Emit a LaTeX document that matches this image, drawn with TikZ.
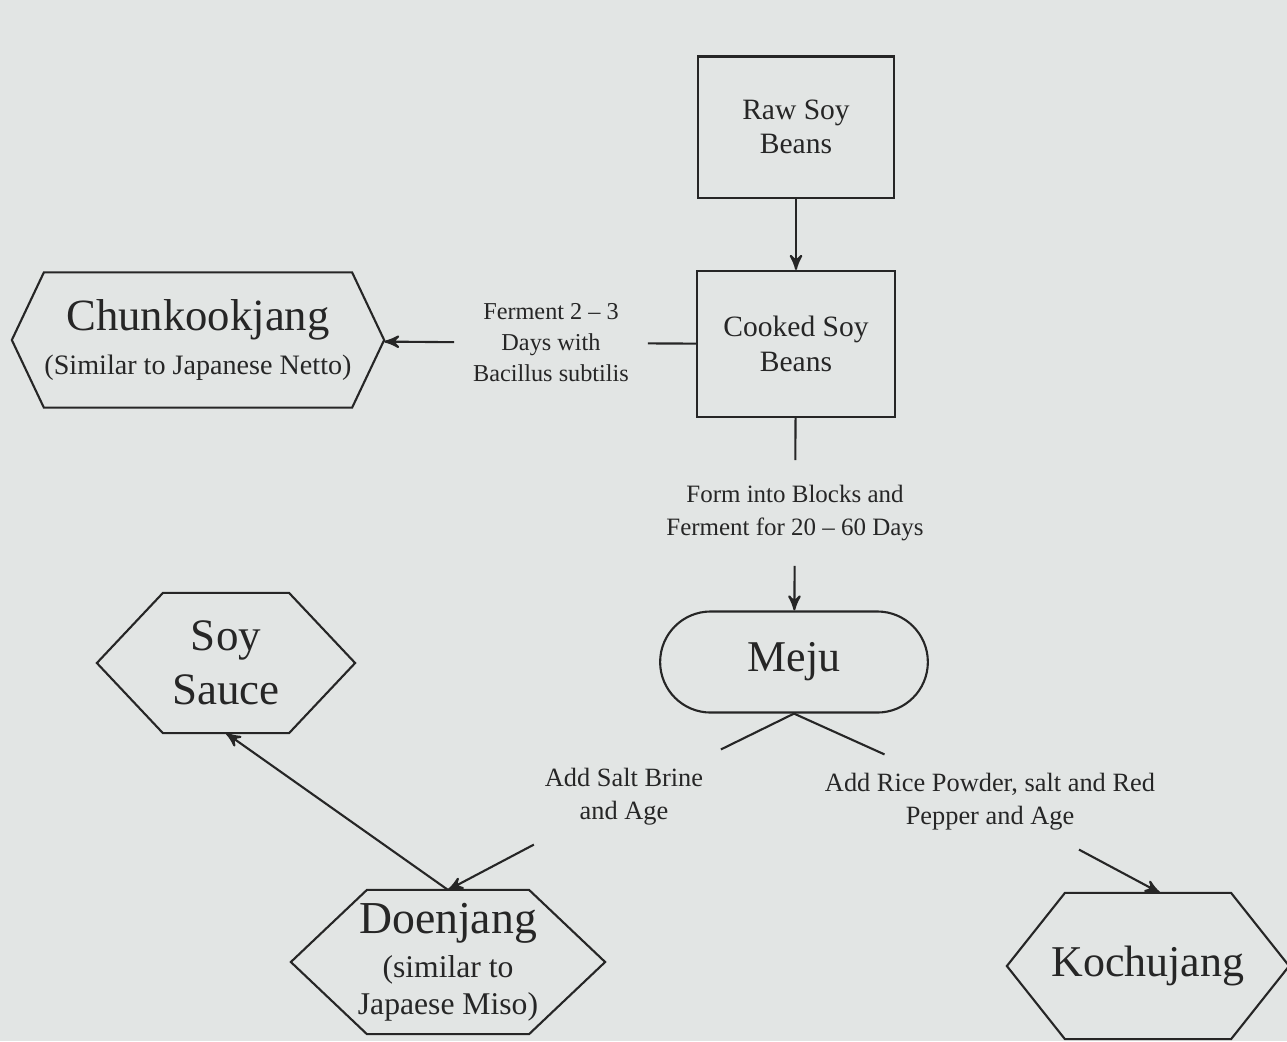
\documentclass[tikz,border=0pt]{standalone}
\usepackage{fontspec}
\setmainfont{Liberation Serif}
\usetikzlibrary{positioning}
\usetikzlibrary{shapes.misc}
\usetikzlibrary{arrows}
\definecolor{paper}{RGB}{226,229,228}
\definecolor{ink}{RGB}{38,38,38}
\tikzset{ed/.style={inner sep=0.18cm, align=center}}
\tikzset{box/.style={draw, align=center, font=\fontsize{8.4}{9.8}\selectfont}}
\tikzset{hex/.style={align=center, inner sep=0pt}}
\tikzset{>=stealth'}
\newcommand{\hexline}[2]{\draw (#1.west) -- ([xshift=#2]#1.north west) -- ([xshift=-#2]#1.north east) -- (#1.east) -- ([xshift=-#2]#1.south east) -- ([xshift=#2]#1.south west) -- cycle;}

\begin{document}
\begin{tikzpicture}[x=0.01cm, y=-0.01cm, color=ink, line width=0.6pt]
        \fill[paper] (0,0) rectangle (1287,1041);
        \useasboundingbox (0,0) rectangle (1287,1041);
        % boxes down the middle
        \node[box, minimum width=1.96cm, minimum height=1.41cm] (Raw) at (796, 127) {Raw Soy\\Beans};
        \node[box, minimum width=1.98cm, minimum height=1.46cm] (Cooked) at (796, 344) {Cooked Soy\\Beans};
        \node[draw, rounded rectangle, minimum width=2.91cm, minimum height=1.01cm, font=\fontsize{12.5}{14}\selectfont] (Meju) at (794, 662) {Meju};
        % hexagons
        \node[hex, minimum width=3.70cm, minimum height=1.33cm, font=\fontsize{8}{12.5}\selectfont] (Chunk) at (198, 340) {{\fontsize{12.7}{14}\selectfont Chunkookjang}\\(Similar to Japanese Netto)};
        \node[hex, minimum width=2.56cm, minimum height=1.38cm, font=\fontsize{12.8}{15.4}\selectfont] (Soy) at (226, 663) {Soy\\Sauce};
        \node[hex, minimum width=3.12cm, minimum height=1.42cm, font=\fontsize{9}{10.5}\selectfont] (Doen) at (448, 962) {{\fontsize{13}{15}\selectfont Doenjang}\\[2pt](similar to\\Japaese Miso)};
        \node[hex, minimum width=2.80cm, minimum height=1.44cm, font=\fontsize{12.5}{14}\selectfont] (Kochu) at (1148, 966) {Kochujang};
        \hexline{Chunk}{0.32cm}
        \hexline{Soy}{0.66cm}
        \hexline{Doen}{0.76cm}
        \hexline{Kochu}{0.58cm}
        % step labels
        \node[ed, font=\fontsize{6.9}{8.8}\selectfont] (Ferm) at (551, 343) {Ferment 2 -- 3\\Days with\\Bacillus subtilis};
        \node[ed, inner ysep=0.24cm, font=\fontsize{7.1}{9.4}\selectfont] (Form) at (795, 513) {Form into Blocks and\\Ferment for 20 -- 60 Days};
        \node[ed, font=\fontsize{7.5}{9.4}\selectfont] (Brine) at (624, 797) {Add Salt Brine\\and Age};
        \node[ed, font=\fontsize{7.5}{9.4}\selectfont] (Rice) at (990, 802) {Add Rice Powder, salt and Red\\Pepper and Age};
        % connectors
        \draw[->] (Raw) -- (Cooked);
        \draw (Cooked) -- (Form);
        \draw (Cooked) -- (Ferm);
        \draw[->] (Ferm) -- (Chunk);
        \draw[->] (Form) -- (Meju);
        \draw (Meju.south) -- (Brine);
        \draw[->] (Brine) -- (Doen.north);
        \draw (Meju.south) -- (Rice);
        \draw[->] (Rice) -- ([xshift=0.12cm]Kochu.north);
        \draw[->] (Doen.north) -- (Soy.south);
    \end{tikzpicture}
\end{document}
